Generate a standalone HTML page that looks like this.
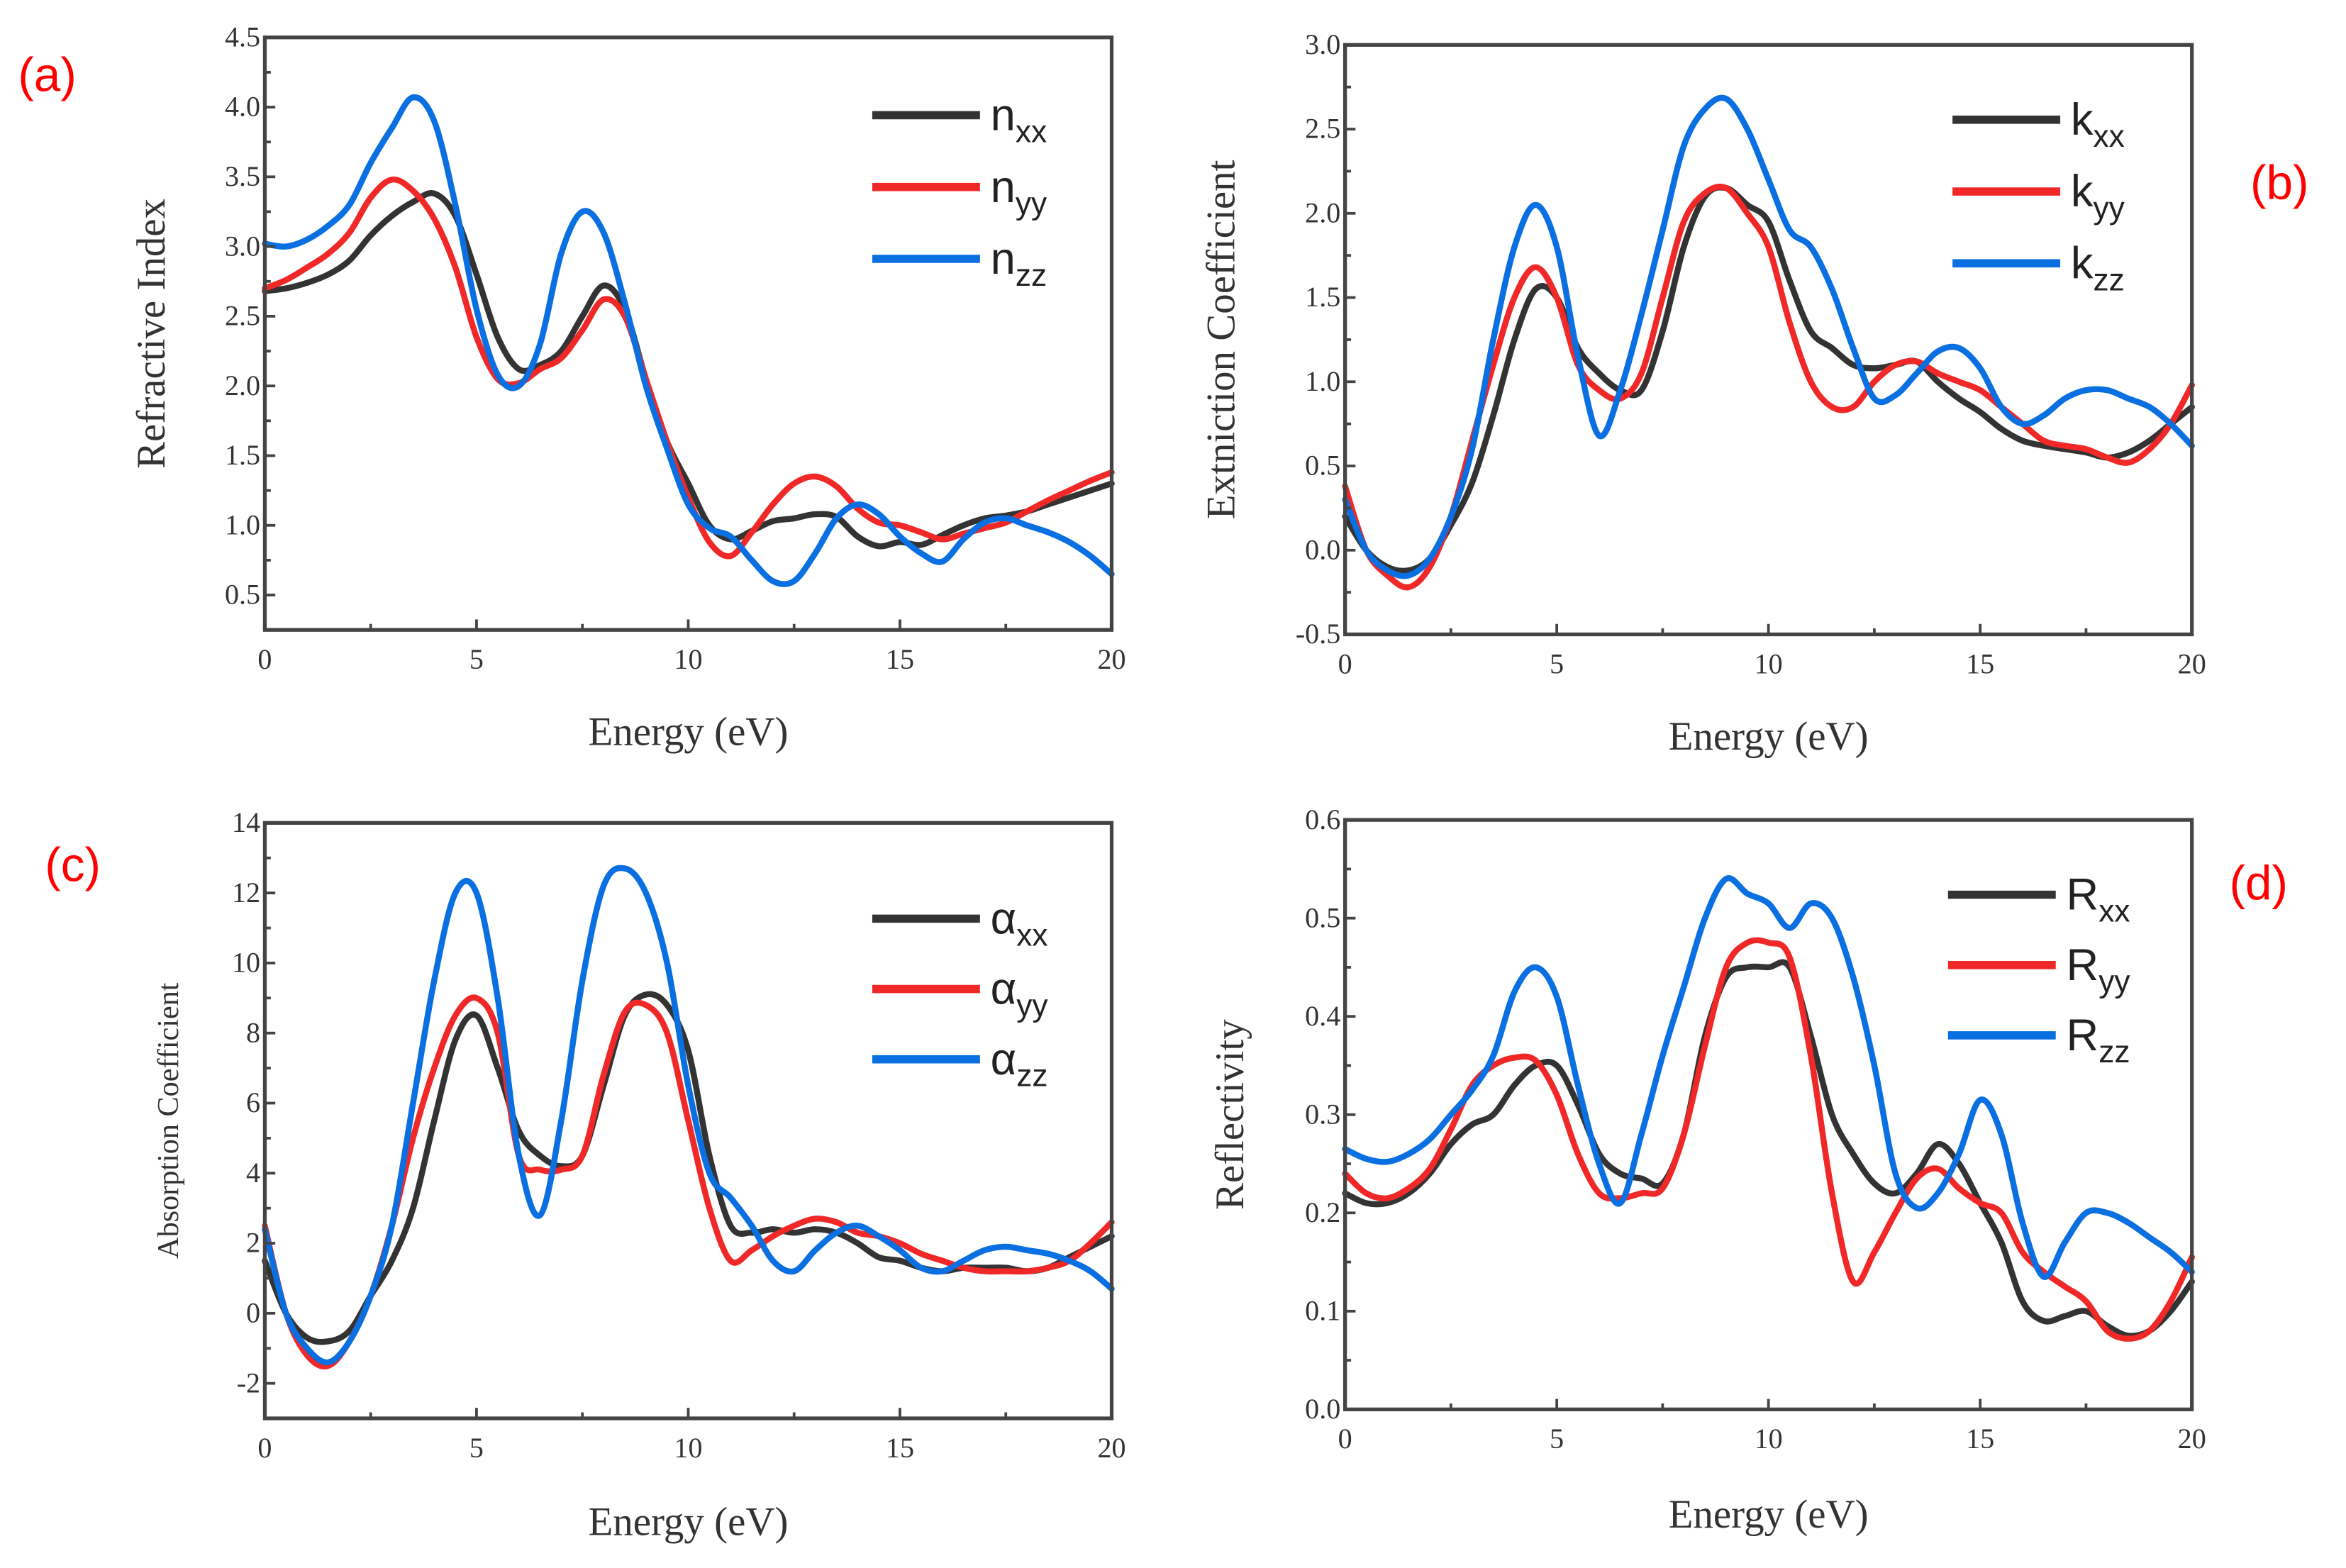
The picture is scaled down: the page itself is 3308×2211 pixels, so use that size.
<!DOCTYPE html>
<html><head><meta charset="utf-8"><style>
html,body{margin:0;padding:0;background:#fff;}
svg{display:block;}
.tk{font-family:"Liberation Serif",serif;font-size:19px;fill:#333;}
.ax{font-family:"Liberation Serif",serif;font-size:27px;fill:#333;}
.lg{font-family:"Liberation Sans",sans-serif;font-size:30px;fill:#222;}
.pl{font-family:"Liberation Sans",sans-serif;font-size:32px;fill:#f00;}
</style></head><body>
<svg id="fig" width="3308" height="2211" viewBox="0 0 1568 1048" xmlns="http://www.w3.org/2000/svg"></svg>
<script>
const energy = [0,0.5,1,1.5,2,2.5,3,3.5,4,4.5,5,5.5,6,6.5,7,7.5,8,8.5,9,9.5,10,10.5,11,11.5,12,12.5,13,13.5,14,14.5,15,15.5,16,16.5,17,17.5,18,18.5,19,19.5,20];
const xTicks = [0,5,10,15,20];
const nxx = [2.68,2.7,2.74,2.8,2.9,3.08,3.22,3.32,3.38,3.22,2.8,2.35,2.12,2.15,2.25,2.5,2.72,2.55,2.05,1.6,1.3,1.0,0.9,0.96,1.03,1.05,1.08,1.06,0.92,0.85,0.88,0.86,0.93,1.0,1.05,1.07,1.1,1.15,1.2,1.25,1.3];
const nyy = [2.7,2.76,2.85,2.95,3.1,3.35,3.48,3.4,3.2,2.85,2.35,2.05,2.02,2.12,2.2,2.4,2.62,2.5,2.05,1.6,1.2,0.88,0.78,0.95,1.15,1.3,1.35,1.28,1.12,1.02,1.0,0.95,0.9,0.94,0.98,1.02,1.1,1.18,1.25,1.32,1.38];
const nzz = [3.02,3.0,3.05,3.15,3.3,3.6,3.85,4.07,3.9,3.3,2.55,2.08,2.0,2.3,2.95,3.25,3.1,2.6,2.0,1.55,1.15,0.98,0.92,0.75,0.6,0.6,0.8,1.05,1.15,1.08,0.92,0.8,0.74,0.9,1.02,1.05,1.0,0.95,0.88,0.78,0.65];
const kxx = [0.2,0.0,-0.1,-0.12,-0.05,0.15,0.4,0.8,1.25,1.55,1.5,1.2,1.05,0.95,0.95,1.3,1.8,2.1,2.15,2.05,1.95,1.6,1.3,1.2,1.1,1.08,1.1,1.12,1.0,0.9,0.82,0.72,0.65,0.62,0.6,0.58,0.55,0.58,0.65,0.75,0.85];
const kyy = [0.38,0.0,-0.15,-0.22,-0.1,0.2,0.65,1.1,1.5,1.68,1.5,1.1,0.95,0.9,1.05,1.5,1.95,2.12,2.15,2.0,1.8,1.35,1.0,0.85,0.85,1.0,1.1,1.12,1.05,1.0,0.95,0.85,0.75,0.65,0.62,0.6,0.55,0.52,0.6,0.75,0.98];
const kzz = [0.3,0.0,-0.12,-0.15,-0.05,0.2,0.6,1.25,1.8,2.05,1.8,1.15,0.68,0.95,1.4,1.9,2.4,2.62,2.68,2.5,2.2,1.9,1.8,1.55,1.2,0.9,0.92,1.05,1.18,1.2,1.08,0.85,0.75,0.8,0.9,0.95,0.95,0.9,0.85,0.75,0.62];
const axx = [1.5,0,-0.7,-0.8,-0.5,0.5,1.5,3,5.5,7.8,8.5,7,5.2,4.5,4.2,4.5,6.5,8.5,9.1,8.8,7.5,4.5,2.5,2.3,2.4,2.3,2.4,2.3,2.0,1.6,1.5,1.3,1.2,1.3,1.3,1.3,1.2,1.3,1.6,1.9,2.2];
const ayy = [2.5,0,-1.2,-1.5,-0.8,0.5,2.5,5,7,8.5,9,8,4.5,4.1,4.1,4.5,6.8,8.6,8.8,8.0,5.5,3.0,1.5,1.8,2.2,2.5,2.7,2.6,2.3,2.2,2.0,1.7,1.5,1.3,1.2,1.2,1.2,1.3,1.5,2.0,2.6];
const azz = [2.4,0,-1.0,-1.4,-0.8,0.5,2.5,6,9.5,12,12,9,4.5,2.8,5.5,9.5,12.2,12.7,12.0,10,6.5,4.0,3.3,2.5,1.5,1.2,1.8,2.3,2.5,2.2,1.8,1.3,1.2,1.5,1.8,1.9,1.8,1.7,1.5,1.2,0.7];
const rxx = [0.22,0.21,0.21,0.22,0.24,0.27,0.29,0.3,0.33,0.35,0.35,0.31,0.26,0.24,0.235,0.23,0.28,0.38,0.44,0.45,0.45,0.45,0.38,0.3,0.26,0.23,0.22,0.24,0.27,0.25,0.21,0.17,0.11,0.09,0.095,0.1,0.085,0.075,0.08,0.1,0.13];
const ryy = [0.24,0.22,0.215,0.225,0.245,0.285,0.33,0.35,0.358,0.355,0.32,0.26,0.22,0.215,0.22,0.225,0.28,0.37,0.45,0.475,0.475,0.46,0.36,0.22,0.13,0.16,0.2,0.235,0.245,0.225,0.21,0.2,0.16,0.14,0.125,0.11,0.08,0.072,0.08,0.11,0.155];
const rzz = [0.265,0.255,0.252,0.26,0.275,0.3,0.325,0.36,0.425,0.45,0.42,0.33,0.25,0.21,0.28,0.36,0.43,0.5,0.54,0.525,0.515,0.49,0.515,0.5,0.44,0.35,0.24,0.205,0.22,0.26,0.315,0.28,0.19,0.135,0.17,0.2,0.2,0.19,0.175,0.16,0.14];
const nTicks = ["0.5","1.0","1.5","2.0","2.5","3.0","3.5","4.0","4.5"];
const kTicks = ["-0.5","0.0","0.5","1.0","1.5","2.0","2.5","3.0"];
const aTicks = ["-2","0","2","4","6","8","10","12","14"];
const rTicks = ["0.0","0.1","0.2","0.3","0.4","0.5","0.6"];

const NS = "http://www.w3.org/2000/svg";
const fig = document.getElementById('fig');
const COLORS = ['#333333','#f02828','#0a6fe0'];
function mk(tag, attrs, parent, text){
  const e = document.createElementNS(NS, tag);
  for (const k in attrs) e.setAttribute(k, attrs[k]);
  if (text !== undefined) e.textContent = text;
  (parent||fig).appendChild(e);
  return e;
}
function smooth(pts){
  let d = 'M'+pts[0][0].toFixed(2)+','+pts[0][1].toFixed(2);
  for (let i=0;i<pts.length-1;i++){
    const p0=pts[Math.max(0,i-1)], p1=pts[i], p2=pts[i+1], p3=pts[Math.min(pts.length-1,i+2)];
    const c1=[p1[0]+(p2[0]-p0[0])/6, p1[1]+(p2[1]-p0[1])/6];
    const c2=[p2[0]-(p3[0]-p1[0])/6, p2[1]-(p3[1]-p1[1])/6];
    d += ' C'+c1[0].toFixed(2)+','+c1[1].toFixed(2)+' '+c2[0].toFixed(2)+','+c2[1].toFixed(2)+' '+p2[0].toFixed(2)+','+p2[1].toFixed(2);
  }
  return d;
}
function panel(cfg){
  const g = mk('g', {});
  
  
  const {x0,x1,yTop,yBot,vmin,vmax} = cfg;
  const sx = v => x0 + (v-0)/(20-0)*(x1-x0);
  const sy = v => yBot - (v-vmin)/(vmax-vmin)*(yBot-yTop);
  cfg.series.forEach((s,i)=>{
    const pts = energy.map((e,j)=>[sx(e), sy(s[j])]);
    const p = mk('path', {d:smooth(pts), fill:'none', stroke:COLORS[i], 'stroke-width':4, 'stroke-linejoin':'round', 'stroke-linecap':'round'}, g);
    
    
  });
  const fr = mk('rect', {x:x0, y:yTop, width:x1-x0, height:yBot-yTop, fill:'none', stroke:'#444', 'stroke-width':2.5}, g);
  
  
  xTicks.forEach((t,i)=>{
    const X = sx(t);
    mk('line', {x1:X, x2:X, y1:yBot, y2:yBot-7, stroke:'#444', 'stroke-width':1.8}, g);
    if (i<xTicks.length-1) mk('line', {x1:sx(t+2.5), x2:sx(t+2.5), y1:yBot, y2:yBot-4, stroke:'#444', 'stroke-width':1.8}, g);
    const tl = mk('text', {x:X, y:yBot+26, 'text-anchor':'middle', class:'tk'}, g, String(t));
    
    
  });
  cfg.yTicks.forEach((t,i)=>{
    const Y = sy(parseFloat(t));
    mk('line', {x1:x0, x2:x0+7, y1:Y, y2:Y, stroke:'#444', 'stroke-width':1.8}, g);
    if (i<cfg.yTicks.length-1){
      const Ym = sy(parseFloat(t)+cfg.step/2);
      mk('line', {x1:x0, x2:x0+4, y1:Ym, y2:Ym, stroke:'#444', 'stroke-width':1.8}, g);
    }
    const tl = mk('text', {x:x0-3, y:Y+6, 'text-anchor':'end', class:'tk'}, g, t);
    
    
  });
  const xt = mk('text', {x:(x0+x1)/2, y:cfg.xTitleY, 'text-anchor':'middle', class:'ax'}, g, 'Energy (eV)');
  
  
  const yt = mk('text', {x:0, y:0, 'text-anchor':'middle', class:'ax', transform:'translate('+cfg.yTitleX+','+((yTop+yBot)/2)+') rotate(-90)', style:'font-size:'+(cfg.yTitleSize||27)+'px'}, g, cfg.yTitle);
  
  
  cfg.labels.forEach((lb,i)=>{
    const Y = cfg.legY + i*cfg.legGap;
    const le = mk('g', {}, g);
    
    
    mk('line', {x1:cfg.legX, x2:cfg.legX+72, y1:Y, y2:Y, stroke:COLORS[i], 'stroke-width':5.5}, le);
    const t = mk('text', {x:cfg.legX+79, y:Y+10, class:'lg'}, le, lb[0]);
    mk('tspan', {dy:8, 'font-size':21}, t, lb[1]);
  });
  const pl = mk('text', {x:cfg.pX, y:cfg.pY, class:'pl'}, g, cfg.plabel);
  
  
}
panel({name:'panel-a-refractive-index', x0:177, x1:743, yTop:25, yBot:421, vmin:0.25, vmax:4.5, step:0.5,
  yTicks:nTicks, series:[nxx,nyy,nzz], labels:[['n','xx'],['n','yy'],['n','zz']],
  yTitle:'Refractive Index', yTitleX:110, xTitleY:498, legX:583, legY:77, legGap:48, plabel:'(a)', pX:12, pY:61});
panel({name:'panel-b-extinction-coefficient', x0:899, x1:1465, yTop:30, yBot:424, vmin:-0.5, vmax:3.0, step:0.5,
  yTicks:kTicks, series:[kxx,kyy,kzz], labels:[['k','xx'],['k','yy'],['k','zz']],
  yTitle:'Extniction Coefficient', yTitleX:825, xTitleY:501, legX:1305, legY:80, legGap:48, plabel:'(b)', pX:1504, pY:133});
panel({name:'panel-c-absorption-coefficient', x0:177, x1:743, yTop:550, yBot:948, vmin:-3, vmax:14, step:2,
  yTicks:aTicks, series:[axx,ayy,azz], labels:[['α','xx'],['α','yy'],['α','zz']],
  yTitle:'Absorption Coefficient', yTitleSize:20, yTitleX:119, xTitleY:1026, legX:583, legY:614, legGap:47, plabel:'(c)', pX:30, pY:589});
panel({name:'panel-d-reflectivity', x0:899, x1:1465, yTop:548, yBot:942, vmin:0, vmax:0.6, step:0.1,
  yTicks:rTicks, series:[rxx,ryy,rzz], labels:[['R','xx'],['R','yy'],['R','zz']],
  yTitle:'Reflectivity', yTitleX:831, xTitleY:1021, legX:1302, legY:598, legGap:47, plabel:'(d)', pX:1490, pY:601});
</script>
</body></html>
